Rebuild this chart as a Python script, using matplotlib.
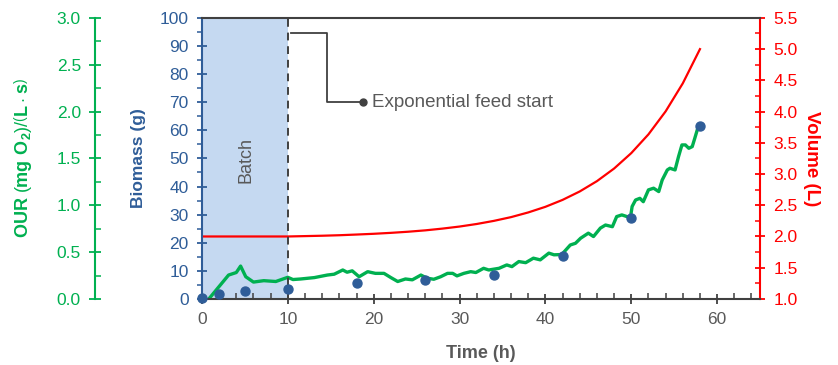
import numpy as np
import matplotlib.pyplot as plt
from matplotlib.ticker import MultipleLocator

plt.rcParams['font.family'] = ['Liberation Sans', 'DejaVu Sans']
plt.rcParams['mathtext.fontset'] = 'custom'
plt.rcParams['mathtext.rm'] = 'Liberation Sans'
plt.rcParams['mathtext.bf'] = 'Liberation Sans:bold'

# biomass samples (g)
bio_t = [0, 2, 5, 10, 18, 26, 34, 42, 50, 58]
bio_g = [0.5, 1.8, 2.8, 3.7, 5.6, 6.8, 8.6, 15.3, 28.8, 61.5]

# reactor volume (L)
vol_t = [0, 10, 12, 14, 16, 18, 20, 22, 24, 26, 28, 30, 32, 34, 36, 38, 40,
         42, 44, 46, 48, 50, 52, 54, 56, 58]
vol_l = [2.0, 2.0, 2.006, 2.012, 2.02, 2.031, 2.043, 2.058, 2.076, 2.098, 2.126,
         2.159, 2.2, 2.25, 2.31, 2.385, 2.475, 2.586, 2.721, 2.886, 3.088, 3.335,
         3.635, 4.003, 4.452, 5.0]

# oxygen uptake rate, mg O2/(L s)
our_t = [0.8, 3.1, 4.0, 4.5, 5.1, 6.0, 7.2, 8.6, 10.0, 10.6, 11.5, 13.1, 14.6,
         15.4, 16.4, 16.9, 17.5, 18.3, 19.3, 20.2, 21.2, 22.0, 22.8, 23.7, 24.5,
         25.5, 26.2, 27.0, 27.8, 28.6, 29.2, 29.7, 30.5, 31.3, 31.9, 32.8, 33.4,
         34.6, 35.5, 36.1, 36.9, 37.7, 38.6, 39.4, 40.4, 41.0, 41.9, 42.9, 43.5,
         44.1, 45.0, 45.6, 46.4, 47.0, 47.8, 48.3, 48.9, 49.5, 49.9, 50.1, 50.5,
         51.0, 51.4, 52.0, 52.6, 53.2, 53.6, 54.2, 54.5, 55.1, 55.5, 55.9, 56.3,
         56.7, 57.1, 57.4, 57.8]
our_v = [0.0, 0.255, 0.282, 0.351, 0.237, 0.18, 0.195, 0.186, 0.231, 0.207,
         0.213, 0.228, 0.255, 0.264, 0.309, 0.285, 0.30, 0.237, 0.291, 0.273,
         0.273, 0.228, 0.186, 0.213, 0.204, 0.255, 0.222, 0.21, 0.237, 0.273,
         0.273, 0.246, 0.273, 0.291, 0.282, 0.327, 0.309, 0.327, 0.363, 0.345,
         0.399, 0.387, 0.435, 0.417, 0.489, 0.471, 0.474, 0.576, 0.594, 0.648,
         0.702, 0.666, 0.756, 0.789, 0.771, 0.879, 0.897, 0.879, 0.867, 0.987,
         1.056, 1.074, 1.038, 1.164, 1.182, 1.146, 1.269, 1.377, 1.395, 1.377,
         1.518, 1.644, 1.644, 1.608, 1.626, 1.716, 1.839]

batch_end = 10

GREY = '#595959'
DARK = '#404040'
BLUE = '#2f5d98'
GREEN = '#00b050'
RED = '#ff0000'
SHADE = '#c5d9f1'

fig = plt.figure(figsize=(8.38, 3.65), dpi=100)
ax = fig.add_axes([0.241, 0.181, 0.666, 0.770])
ax_our = ax.twinx()
ax_vol = ax.twinx()

ax_our.set_zorder(1)
ax_vol.set_zorder(2)
ax.set_zorder(3)
ax.patch.set_visible(False)
ax_vol.patch.set_visible(False)

# shading + OUR on the bottom layer
ax_our.axvspan(0, batch_end, color=SHADE, lw=0)
ax_our.plot(our_t, our_v, color=GREEN, lw=2.4, solid_capstyle='round',
            solid_joinstyle='round')

ax_vol.plot(vol_t, vol_l, color=RED, lw=1.6)

ax.axvline(batch_end, color=DARK, lw=1.4, ls=(0, (4, 3)))
ax.scatter(bio_t, bio_g, s=42, color=BLUE, zorder=5, clip_on=False)

# annotation
ax.plot([10.4, 14.6, 14.6, 18.8], [94.7, 94.7, 70, 70], color=DARK, lw=1.3)
ax.plot([18.8], [70], 'o', color=DARK, ms=5)
ax.text(19.8, 70, 'Exponential feed start', color=GREY, fontsize=13.5,
        va='center', ha='left')
ax.text(5.1, 49.5, 'Batch', color=GREY, fontsize=13, rotation=90,
        ha='center', va='center')

# main axis
ax.set_xlim(0, 65)
ax.set_ylim(0, 100)
ax.xaxis.set_major_locator(MultipleLocator(10))
ax.xaxis.set_minor_locator(MultipleLocator(2))
ax.yaxis.set_major_locator(MultipleLocator(10))
ax.yaxis.set_minor_locator(MultipleLocator(5))
ax.spines['right'].set_visible(False)
ax.spines['top'].set_color(DARK)
ax.spines['top'].set_linewidth(1.5)
ax.spines['bottom'].set_color(DARK)
ax.spines['bottom'].set_linewidth(1.5)
ax.spines['left'].set_color(BLUE)
ax.spines['left'].set_linewidth(1.5)
ax.tick_params(axis='x', which='major', direction='inout', length=7, width=1.3,
               color=DARK, labelcolor=GREY, labelsize=12.5, pad=6)
ax.tick_params(axis='x', which='minor', direction='in', length=4, width=1.1, color=DARK)
ax.tick_params(axis='y', which='major', direction='inout', length=7, width=1.3,
               color=BLUE, labelcolor=BLUE, labelsize=12.5, pad=6)
ax.tick_params(axis='y', which='minor', direction='out', length=3.5, width=1.1, color=BLUE)
ax.set_xlabel('Time (h)', color=GREY, fontsize=13, fontweight='bold', labelpad=13)
ax.set_ylabel('Biomass (g)', color=BLUE, fontsize=12.5, fontweight='bold', labelpad=10)

# volume axis
ax_vol.set_ylim(1.0, 5.5)
ax_vol.yaxis.set_major_locator(MultipleLocator(0.5))
ax_vol.yaxis.set_minor_locator(MultipleLocator(0.25))
ax_vol.yaxis.set_major_formatter(lambda v, p: f'{v:.1f}')
for s in ['left', 'top', 'bottom']:
    ax_vol.spines[s].set_visible(False)
ax_vol.spines['right'].set_color(RED)
ax_vol.spines['right'].set_linewidth(1.5)
ax_vol.tick_params(axis='y', which='major', direction='inout', length=7, width=1.3,
                   color=RED, labelcolor=RED, labelsize=12.5, pad=6)
ax_vol.tick_params(axis='y', which='minor', direction='in', length=3.5, width=1.1, color=RED)
ax_vol.set_ylabel('Volume (L)', color=RED, fontsize=13.5, fontweight='bold',
                  rotation=270, labelpad=16)

# OUR axis
ax_our.set_ylim(0, 3.0)
ax_our.yaxis.set_major_locator(MultipleLocator(0.5))
ax_our.yaxis.set_minor_locator(MultipleLocator(0.25))
ax_our.yaxis.set_major_formatter(lambda v, p: f'{v:.1f}')
ax_our.yaxis.set_label_position('left')
ax_our.yaxis.set_ticks_position('left')
for s in ['right', 'top', 'bottom']:
    ax_our.spines[s].set_visible(False)
ax_our.spines['left'].set_position(('axes', -0.192))
ax_our.spines['left'].set_color(GREEN)
ax_our.spines['left'].set_linewidth(1.5)
ax_our.tick_params(axis='y', which='major', direction='inout', length=8, width=1.3,
                   color=GREEN, labelcolor=GREEN, labelsize=12.5, pad=6)
ax_our.tick_params(axis='y', which='minor', direction='in', length=4, width=1.1, color=GREEN)
ax_our.set_ylabel(r'OUR $\left(\mathbf{mg\ O_2}\right)/\left(\mathbf{L\cdot s}\right)$',
                  color=GREEN, fontsize=13, fontweight='bold', labelpad=16)

fig.savefig('out.png', dpi=100)
